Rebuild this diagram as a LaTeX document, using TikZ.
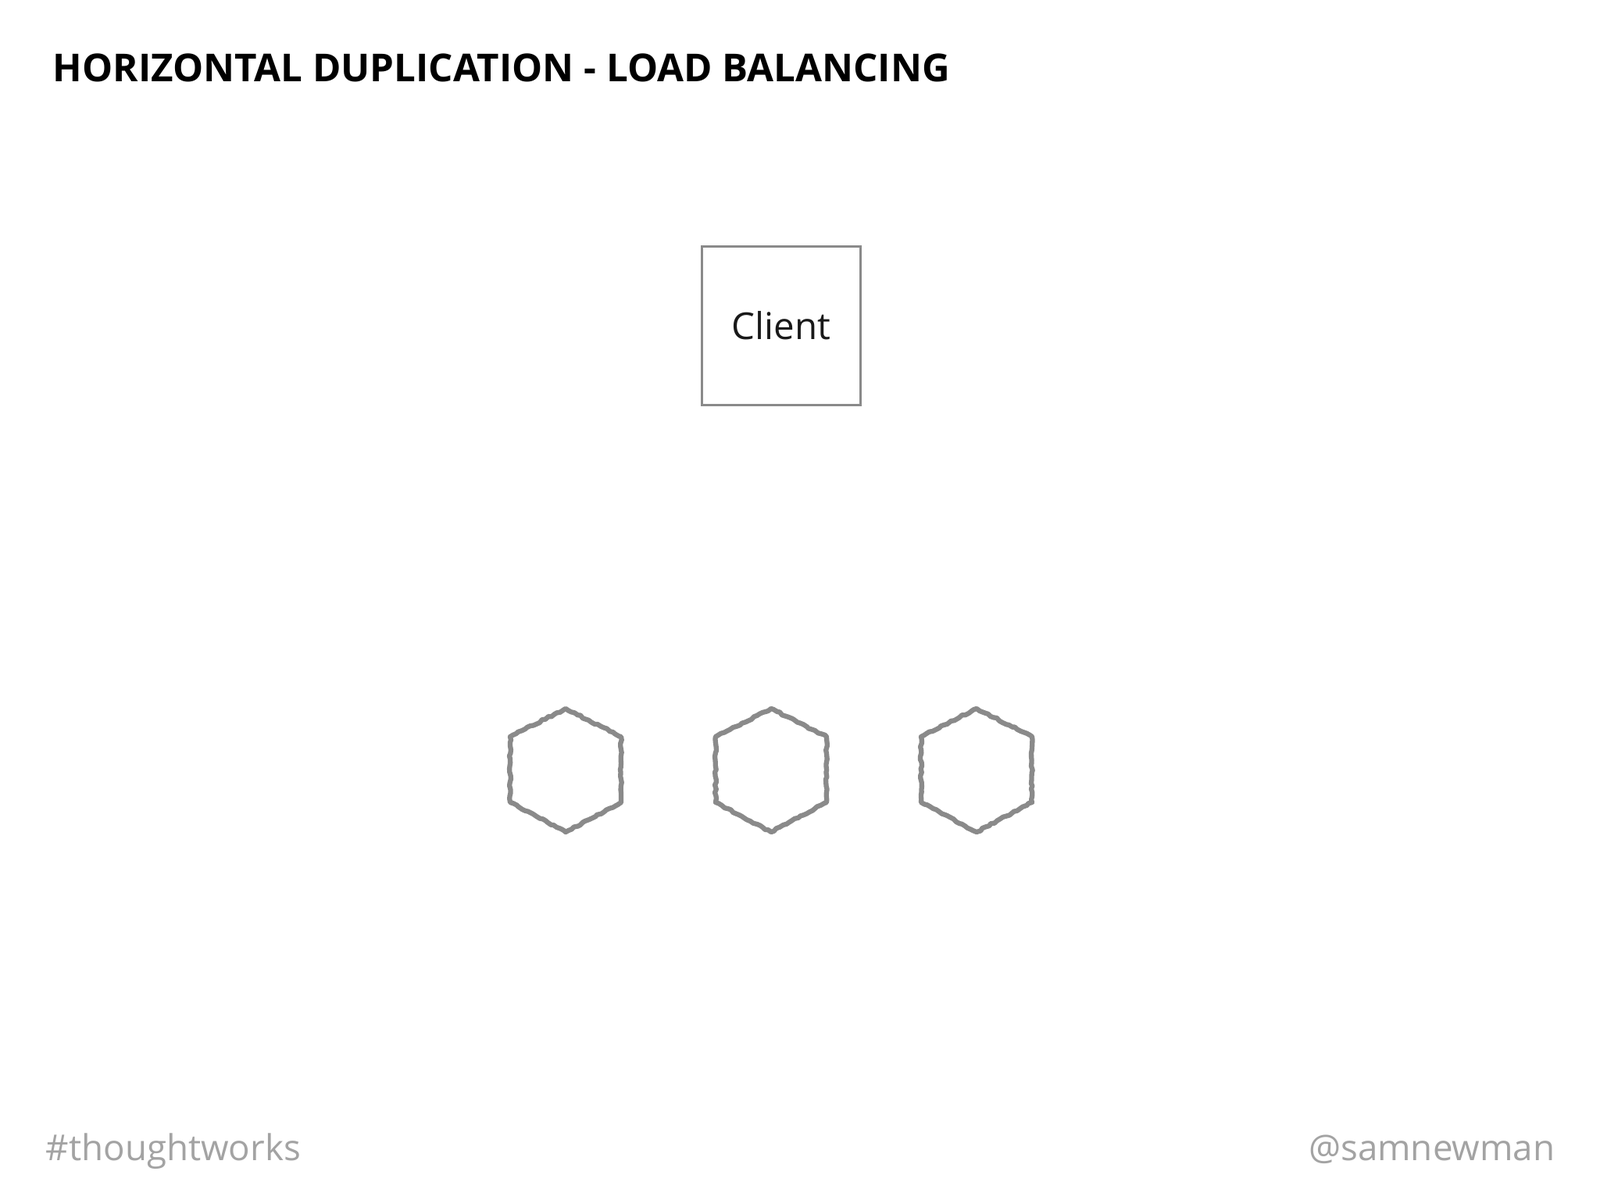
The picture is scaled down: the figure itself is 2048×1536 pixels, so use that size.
\documentclass[tikz,border=0pt]{standalone}
\usepackage{fontspec}
\setmainfont{Open Sans}
\usepackage{xcolor}
\usepackage{tikz}
\usetikzlibrary{positioning,decorations.pathmorphing}

\definecolor{boxgray}{HTML}{8A8A8A}
\definecolor{footgray}{HTML}{A3A3A3}

\begin{document}
\begin{tikzpicture}[
    x=0.01cm, y=-0.01cm,
    title/.style={anchor=base west, inner sep=0pt, font=\fontsize{14}{17}\selectfont\bfseries},
    footer/.style={inner sep=0pt, text=footgray, font=\fontsize{13}{16}\selectfont},
    clientbox/.style={rectangle, draw=boxgray, line width=0.85pt, minimum size=2.03cm, inner sep=0pt, text=black!90, font=\fontsize{13.5}{16}\selectfont},
    hexline/.style={draw=boxgray, line width=1.8pt, line join=round,
        decorate, decoration={random steps, segment length=1.2pt, amplitude=0.3pt}}
]
\useasboundingbox (0,0) rectangle (2048,1536);

% Title and footer
\node (title) [title] at (67,104) {HORIZONTAL DUPLICATION - LOAD BALANCING};
\node (tag) [footer, anchor=base west] at (58,1485) {\#thoughtworks};
\node (handle) [footer, anchor=base east] at (1991,1485) {@samnewman};

% Nodes
\node (client) [clientbox] at (1000,417) {Client};

\coordinate (svcA) at (724,986);
\coordinate (svcB) at (987,986);
\coordinate (svcC) at (1250,986);

% Hexagons
\foreach \svc in {svcA,svcB,svcC}{
  \draw[hexline] (\svc) ++(0,-79) -- ++(71,36) -- ++(0,84) -- ++(-71,38)
    -- ++(-71,-38) -- ++(0,-84) -- cycle;
}

\end{tikzpicture}
\end{document}
